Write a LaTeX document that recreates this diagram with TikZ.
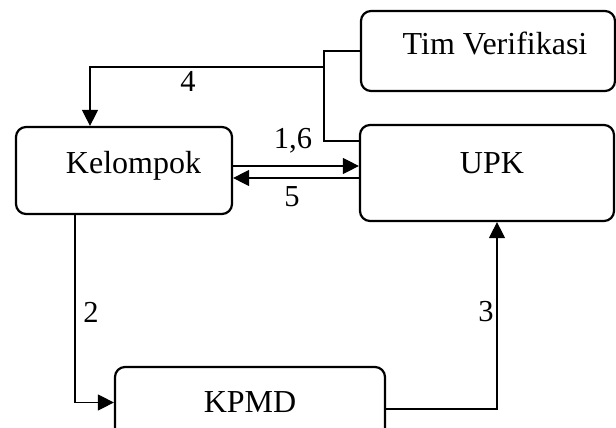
\documentclass[tikz,border=0pt]{standalone}
\usepackage{fontspec}
\setmainfont{Liberation Serif}
\usetikzlibrary{arrows.meta}
\begin{document}
\begin{tikzpicture}[x=1pt,y=-1pt,
  box/.style={draw, line width=2.2pt, rounded corners=10pt, inner sep=0pt},
  txt/.style={font=\fontsize{32}{36}\selectfont, inner sep=0pt, anchor=base},
  lbl/.style={font=\fontsize{30.5}{34}\selectfont, inner sep=0pt},
  conn/.style={line width=1.1pt},
  arr/.style={conn, -{Triangle[length=16pt,width=16pt]}}]
\useasboundingbox (0,0) rectangle (616,428);
% boxes
\node[box, minimum width=254pt, minimum height=80pt] (tim) at (488,51) {};
\node[box, minimum width=254pt, minimum height=96pt] (upk) at (487,173) {};
\node[box, minimum width=216pt, minimum height=87pt] (kel) at (124,170.5) {};
\node[box, minimum width=270pt, minimum height=71pt] (kpmd) at (250,402.5) {};
% texts
\node[txt] (timt) at (495,55) {Tim Verifikasi};
\node[txt] (upkt) at (492,173) {UPK};
\node[txt] (kelt) at (133.5,173) {Kelompok};
\node[txt] (kpmdt) at (250,412) {KPMD};
% junctions
\coordinate (jA) at (324,141);
\coordinate (jB) at (324,67);
\coordinate (k4) at (90,67);
\coordinate (kd) at (75,300);
\coordinate (u3) at (497,300);
% connectors
\draw[conn] (tim.west) -| (jA) -- (jA -| upk.west);
\draw[arr] (jB) -- (k4) -- (k4 |- kel.north);
\draw[arr] (kel.east |- 0,166) -- (upk.west |- 0,166);
\draw[arr] (upk.west |- 0,178) -- (kel.east |- 0,178);
\draw[arr] (kd |- kel.south) -- (kd |- kpmd.west) -- (kpmd.west);
\draw[arr] (kpmd.east |- 0,409) -- (u3 |- 0,409) -- (u3 |- upk.south);
% labels
\node[lbl] (l4) at (188,81) {4};
\node[lbl, anchor=base] (l16) at (293,148) {1,6};
\node[lbl] (l5) at (292,197) {5};
\node[lbl] (l2) at (91,312) {2};
\node[lbl] (l3) at (486,312) {3};
\end{tikzpicture}
\end{document}
